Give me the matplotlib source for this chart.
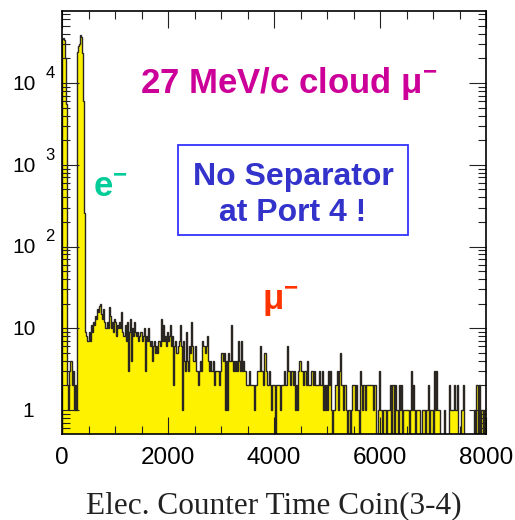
import numpy as np
import matplotlib
matplotlib.use('agg')
import matplotlib.pyplot as plt
from matplotlib.ticker import MultipleLocator, LogLocator, NullFormatter
from matplotlib.patches import Rectangle
import matplotlib.transforms as mtransforms

plt.rcParams['font.family'] = 'Liberation Sans'
plt.rcParams['mathtext.fontset'] = 'custom'
plt.rcParams['mathtext.rm'] = 'Liberation Sans'
plt.rcParams['mathtext.bf'] = 'Liberation Sans:bold'
plt.rcParams['mathtext.it'] = 'Liberation Sans:italic'

##### Data (counts per bin, 400 bins of 20 over 0-8000)
x_min, x_max = 0, 8000
counts = [
    35000, 36000, 34000, 20000, 5500, 2, 1, 3, 4, 2, 3, 1, 2, 1, 24000, 28000, 30000, 39000, 37000, 23000,
    6000, 260, 9, 8, 7, 9, 7, 11, 9, 12, 11, 14, 13, 17, 16, 19, 20, 15, 13, 17,
    12, 10, 12, 10, 18, 14, 10, 12, 9, 13, 12, 8, 11, 10, 12, 10, 16, 9, 8, 11,
    7, 12, 3, 9, 13, 4, 10, 8, 12, 9, 8, 9, 7, 8, 9, 7, 8, 10, 3, 8,
    7, 10, 7, 6, 7, 4, 6, 7, 5, 6, 5, 7, 6, 13, 7, 11, 7, 8, 6, 9,
    7, 8, 11, 6, 8, 2, 6, 7, 5, 6, 7, 11, 6, 1, 7, 4, 3, 9, 4, 3,
    6, 5, 12, 6, 4, 6, 3, 3, 2, 3, 4, 3, 7, 6, 6, 5, 6, 8, 4, 3,
    4, 3, 4, 2, 3, 3, 3, 3, 2, 3, 5, 5, 4, 5, 1, 4, 1, 5, 4, 11,
    4, 3, 4, 3, 4, 3, 7, 4, 3, 7, 3, 4, 3, 3, 2, 2, 3, 2, 2, 2,
    2, 1, 2, 2, 3, 3, 3, 6, 3, 3, 2, 5, 3, 2, 2, 3, 2, 1, 2, 2,
    2, 0, 2, 2, 2, 2, 1, 2, 2, 3, 2, 2, 6, 3, 3, 2, 3, 3, 2, 3,
    1, 2, 1, 3, 4, 3, 3, 2, 3, 3, 2, 4, 2, 2, 2, 3, 3, 2, 3, 2,
    2, 2, 3, 2, 2, 3, 1, 2, 1, 2, 1, 3, 2, 3, 1, 0, 1, 1, 2, 3,
    1, 3, 5, 2, 2, 1, 2, 2, 1, 0, 1, 1, 0, 1, 2, 2, 1, 2, 1, 1,
    0, 3, 2, 1, 2, 2, 1, 2, 2, 2, 2, 2, 2, 1, 2, 2, 0, 0, 1, 3,
    1, 1, 0, 1, 1, 1, 0, 1, 1, 2, 0, 2, 2, 0, 2, 1, 1, 0, 2, 1,
    2, 0, 1, 1, 1, 1, 1, 0, 1, 3, 1, 2, 1, 0, 1, 1, 1, 1, 0, 0,
    1, 1, 0, 1, 1, 2, 0, 1, 1, 1, 0, 3, 1, 3, 1, 1, 1, 0, 0, 0,
    1, 0, 0, 0, 0, 2, 1, 1, 1, 1, 2, 1, 1, 2, 0, 0, 1, 1, 2, 0,
    0, 0, 0, 0, 0, 0, 0, 0, 0, 1, 0, 2, 0, 2, 0, 1, 1, 0, 1, 1,
]
xticks = [0, 2000, 4000, 6000, 8000]
ytick_vals = [1, 10, 100, 1000, 10000]
ytick_base = ['1', '10', '10', '10', '10']
ytick_pow = ['', '', '2', '3', '4']
xlabel = 'Elec. Counter Time Coin(3-4)'

##### Plot
fig = plt.figure(figsize=(5.15, 5.2), dpi=100)
ax = fig.add_axes([62/515, 1-434/520, 424/515, 423/520])

edges = np.linspace(x_min, x_max, len(counts)+1)
c = np.array(counts, dtype=float)
floor = 1e-2
c_plot = np.where(c > 0, c, floor)
ax.stairs(c_plot, edges, fill=True, color='#fff200', baseline=floor, zorder=1)
ax.stairs(c_plot, edges, color='#2a2622', lw=1.0, baseline=floor, zorder=2)

ax.set_yscale('log')
ax.set_xlim(x_min, x_max)
ax.set_ylim(0.51, 7.6e4)

ax.xaxis.set_major_locator(MultipleLocator(2000))
ax.xaxis.set_minor_locator(MultipleLocator(500))
ax.set_xticks(xticks)
ax.set_xticklabels([str(v) for v in xticks])
ax.yaxis.set_major_locator(LogLocator(base=10, numticks=10))
ax.yaxis.set_minor_locator(LogLocator(base=10, subs=np.arange(2, 10), numticks=20))
ax.yaxis.set_minor_formatter(NullFormatter())
ax.set_yticks(ytick_vals)
ax.set_yticklabels([])
ax.tick_params(which='both', direction='in', top=True, right=True, color='#222222', width=0.8)
ax.tick_params(which='major', length=12)
ax.tick_params(which='minor', length=6)
ax.tick_params(axis='x', labelsize=17.5, pad=9)
for s in ax.spines.values():
    s.set_linewidth(1.2)

# y tick labels drawn as 10 with raised exponent
trans = mtransforms.blended_transform_factory(ax.transAxes, ax.transData)
for v, b, p in zip(ytick_vals, ytick_base, ytick_pow):
    xc = -0.080 if b == '1' else -0.0896
    ax.annotate(b, xy=(xc, v), xycoords=trans, xytext=(0, -1), textcoords='offset points',
                ha='center', va='center', fontsize=15, annotation_clip=False)
    if p:
        ax.annotate(p, xy=(-0.0283, v), xycoords=trans, xytext=(0, 7), textcoords='offset points',
                    ha='center', va='center', fontsize=12, annotation_clip=False)

# annotations
ax.text(0.184, 0.806, r'27 MeV/c cloud $\mathbf{\mu^{-}}$', transform=ax.transAxes,
        color='#cc0099', fontsize=25, fontweight='bold', ha='left', va='baseline')
ax.text(0.073, 0.560, r'$\mathbf{e^{-}}$', transform=ax.transAxes,
        color='#00cc99', fontsize=25, fontweight='bold', ha='left', va='baseline')
ax.text(0.472, 0.293, r'$\mathbf{\mu^{-}}$', transform=ax.transAxes,
        color='#ff3300', fontsize=25, fontweight='bold', ha='left', va='baseline')

ax.add_patch(Rectangle((0.2736, 0.470), 0.816-0.2736, 0.683-0.470, transform=ax.transAxes,
                       facecolor='white', edgecolor='#3333ff', lw=1.3, zorder=5))
ax.text(0.545, 0.589, 'No Separator', transform=ax.transAxes, color='#3333cc',
        fontsize=23, fontweight='bold', ha='center', va='baseline', zorder=6)
ax.text(0.545, 0.504, 'at Port 4 !', transform=ax.transAxes, color='#3333cc',
        fontsize=23, fontweight='bold', ha='center', va='baseline', zorder=6)

fig.text(274/515, 1-513/520, xlabel, family='Liberation Serif', fontsize=22.5,
         ha='center', va='baseline', color='#222222')

plt.savefig('out.png', dpi=100)
